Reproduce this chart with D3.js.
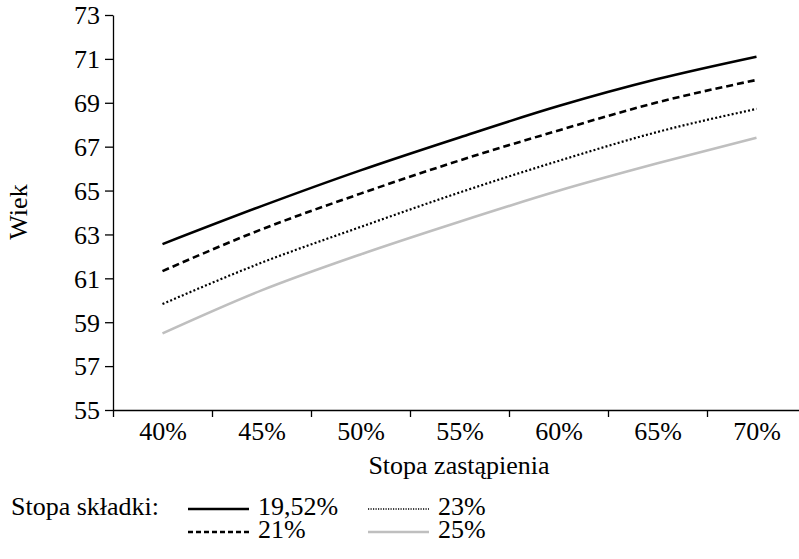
<!DOCTYPE html>
<html>
<head>
<meta charset="utf-8">
<script src="https://cdn.jsdelivr.net/npm/d3@7"></script>
<style>
  body { margin: 0; background: #fff; }
  .axis path, .axis line { stroke: #000; stroke-width: 1.3; }
</style>
</head>
<body>
<div id="chart"></div>
<script>
// replacement rate categories (%)
const rates = [40, 45, 50, 55, 60, 65, 70];
const yTicks = [55, 57, 59, 61, 63, 65, 67, 69, 71, 73];

// age per contribution rate
const age1952 = [62.56, 64.29, 65.92, 67.42, 68.85, 70.08, 71.10];
const age21 = [61.33, 63.23, 64.86, 66.37, 67.74, 69.02, 70.04];
const age23 = [59.83, 61.71, 63.34, 64.91, 66.35, 67.67, 68.72];
const age25 = [58.49, 60.45, 62.09, 63.58, 64.99, 66.24, 67.41];

const seriesNames = ['19,52%', '21%', '23%', '25%'];

const width = 799;
const height = 559;
const fontFam = "'Liberation Serif'";
const fontSize = 26;

const series = [
    { name: seriesNames[0], values: age1952, color: '#000', dash: null, w: 2.6, legDash: null },
    { name: seriesNames[1], values: age21, color: '#000', dash: '7,4', w: 2.6, legDash: '5,3' },
    { name: seriesNames[2], values: age23, color: '#000', dash: '2,2.2', w: 2.2, legDash: '1.2,1.3' },
    { name: seriesNames[3], values: age25, color: '#bfbfbf', dash: null, w: 2.6, legDash: null },
];

const svg = d3.select('#chart')
    .append('svg')
    .attr('width', width)
    .attr('height', height);

// ticks sit between categories, labels on category centres
const xScale = d3.scaleLinear().domain([37.5, 72.5]).range([113, 806]);
const yScale = d3.scaleLinear().domain([55, 73]).range([410, 15]);

// set the font on each text itself, inheritance from <g> gets lost here
function serifText(sel) {
    sel.attr('font-family', fontFam)
        .attr('font-size', fontSize)
        .attr('fill', '#000');
}

// y axis
svg.append('g')
    .attr('class', 'axis')
    .attr('transform', 'translate(113,0)')
    .call(d3.axisLeft(yScale).tickValues(yTicks).tickSize(8).tickPadding(5).tickSizeOuter(0))
    .call(g => g.selectAll('text').call(serifText).attr('dy', '0.34em'));

// x axis: tick marks at boundaries
const xBounds = rates.map(r => r - 2.5);
svg.append('g')
    .attr('class', 'axis')
    .attr('transform', 'translate(0,410)')
    .call(d3.axisBottom(xScale).tickValues(xBounds).tickFormat('').tickSize(7).tickSizeOuter(0));

// x labels
svg.append('g')
    .attr('class', 'axis')
    .attr('transform', 'translate(0,410)')
    .call(d3.axisBottom(xScale).tickValues(rates).tickFormat(d => d + '%').tickSize(0).tickPadding(12))
    .call(g => g.selectAll('text').call(serifText))
    .call(g => g.select('.domain').remove());

// axis titles
svg.append('text')
    .attr('transform', 'translate(27,212) rotate(-90)')
    .attr('text-anchor', 'middle')
    .call(serifText)
    .text('Wiek');

svg.append('text')
    .attr('x', 459)
    .attr('y', 474)
    .attr('text-anchor', 'middle')
    .call(serifText)
    .text('Stopa zastąpienia');

// lines
const line = d3.line()
    .x((d, i) => xScale(rates[i]))
    .y(d => yScale(d))
    .curve(d3.curveMonotoneX);

svg.append('g')
    .selectAll('path')
    .data(series)
    .join('path')
    .attr('d', d => line(d.values))
    .attr('fill', 'none')
    .attr('stroke', d => d.color)
    .attr('stroke-width', d => d.w)
    .attr('stroke-dasharray', d => d.dash);

// legend
const legend = svg.append('g');
legend.append('text').attr('x', 11).attr('y', 515).call(serifText).text('Stopa składki:');

const legPos = [
    { x: 188, y: 509 },
    { x: 188, y: 532 },
    { x: 368, y: 509 },
    { x: 368, y: 532 },
];

series.forEach((s, i) => {
    const p = legPos[i];
    legend.append('line')
        .attr('x1', p.x).attr('x2', p.x + 61)
        .attr('y1', p.y).attr('y2', p.y)
        .attr('stroke', s.color)
        .attr('stroke-width', i === 2 ? 1.6 : 2.4)
        .attr('stroke-dasharray', s.legDash);
    legend.append('text')
        .attr('x', p.x + 70)
        .attr('y', p.y + 6)
        .call(serifText)
        .text(s.name);
});
</script>
</body>
</html>
